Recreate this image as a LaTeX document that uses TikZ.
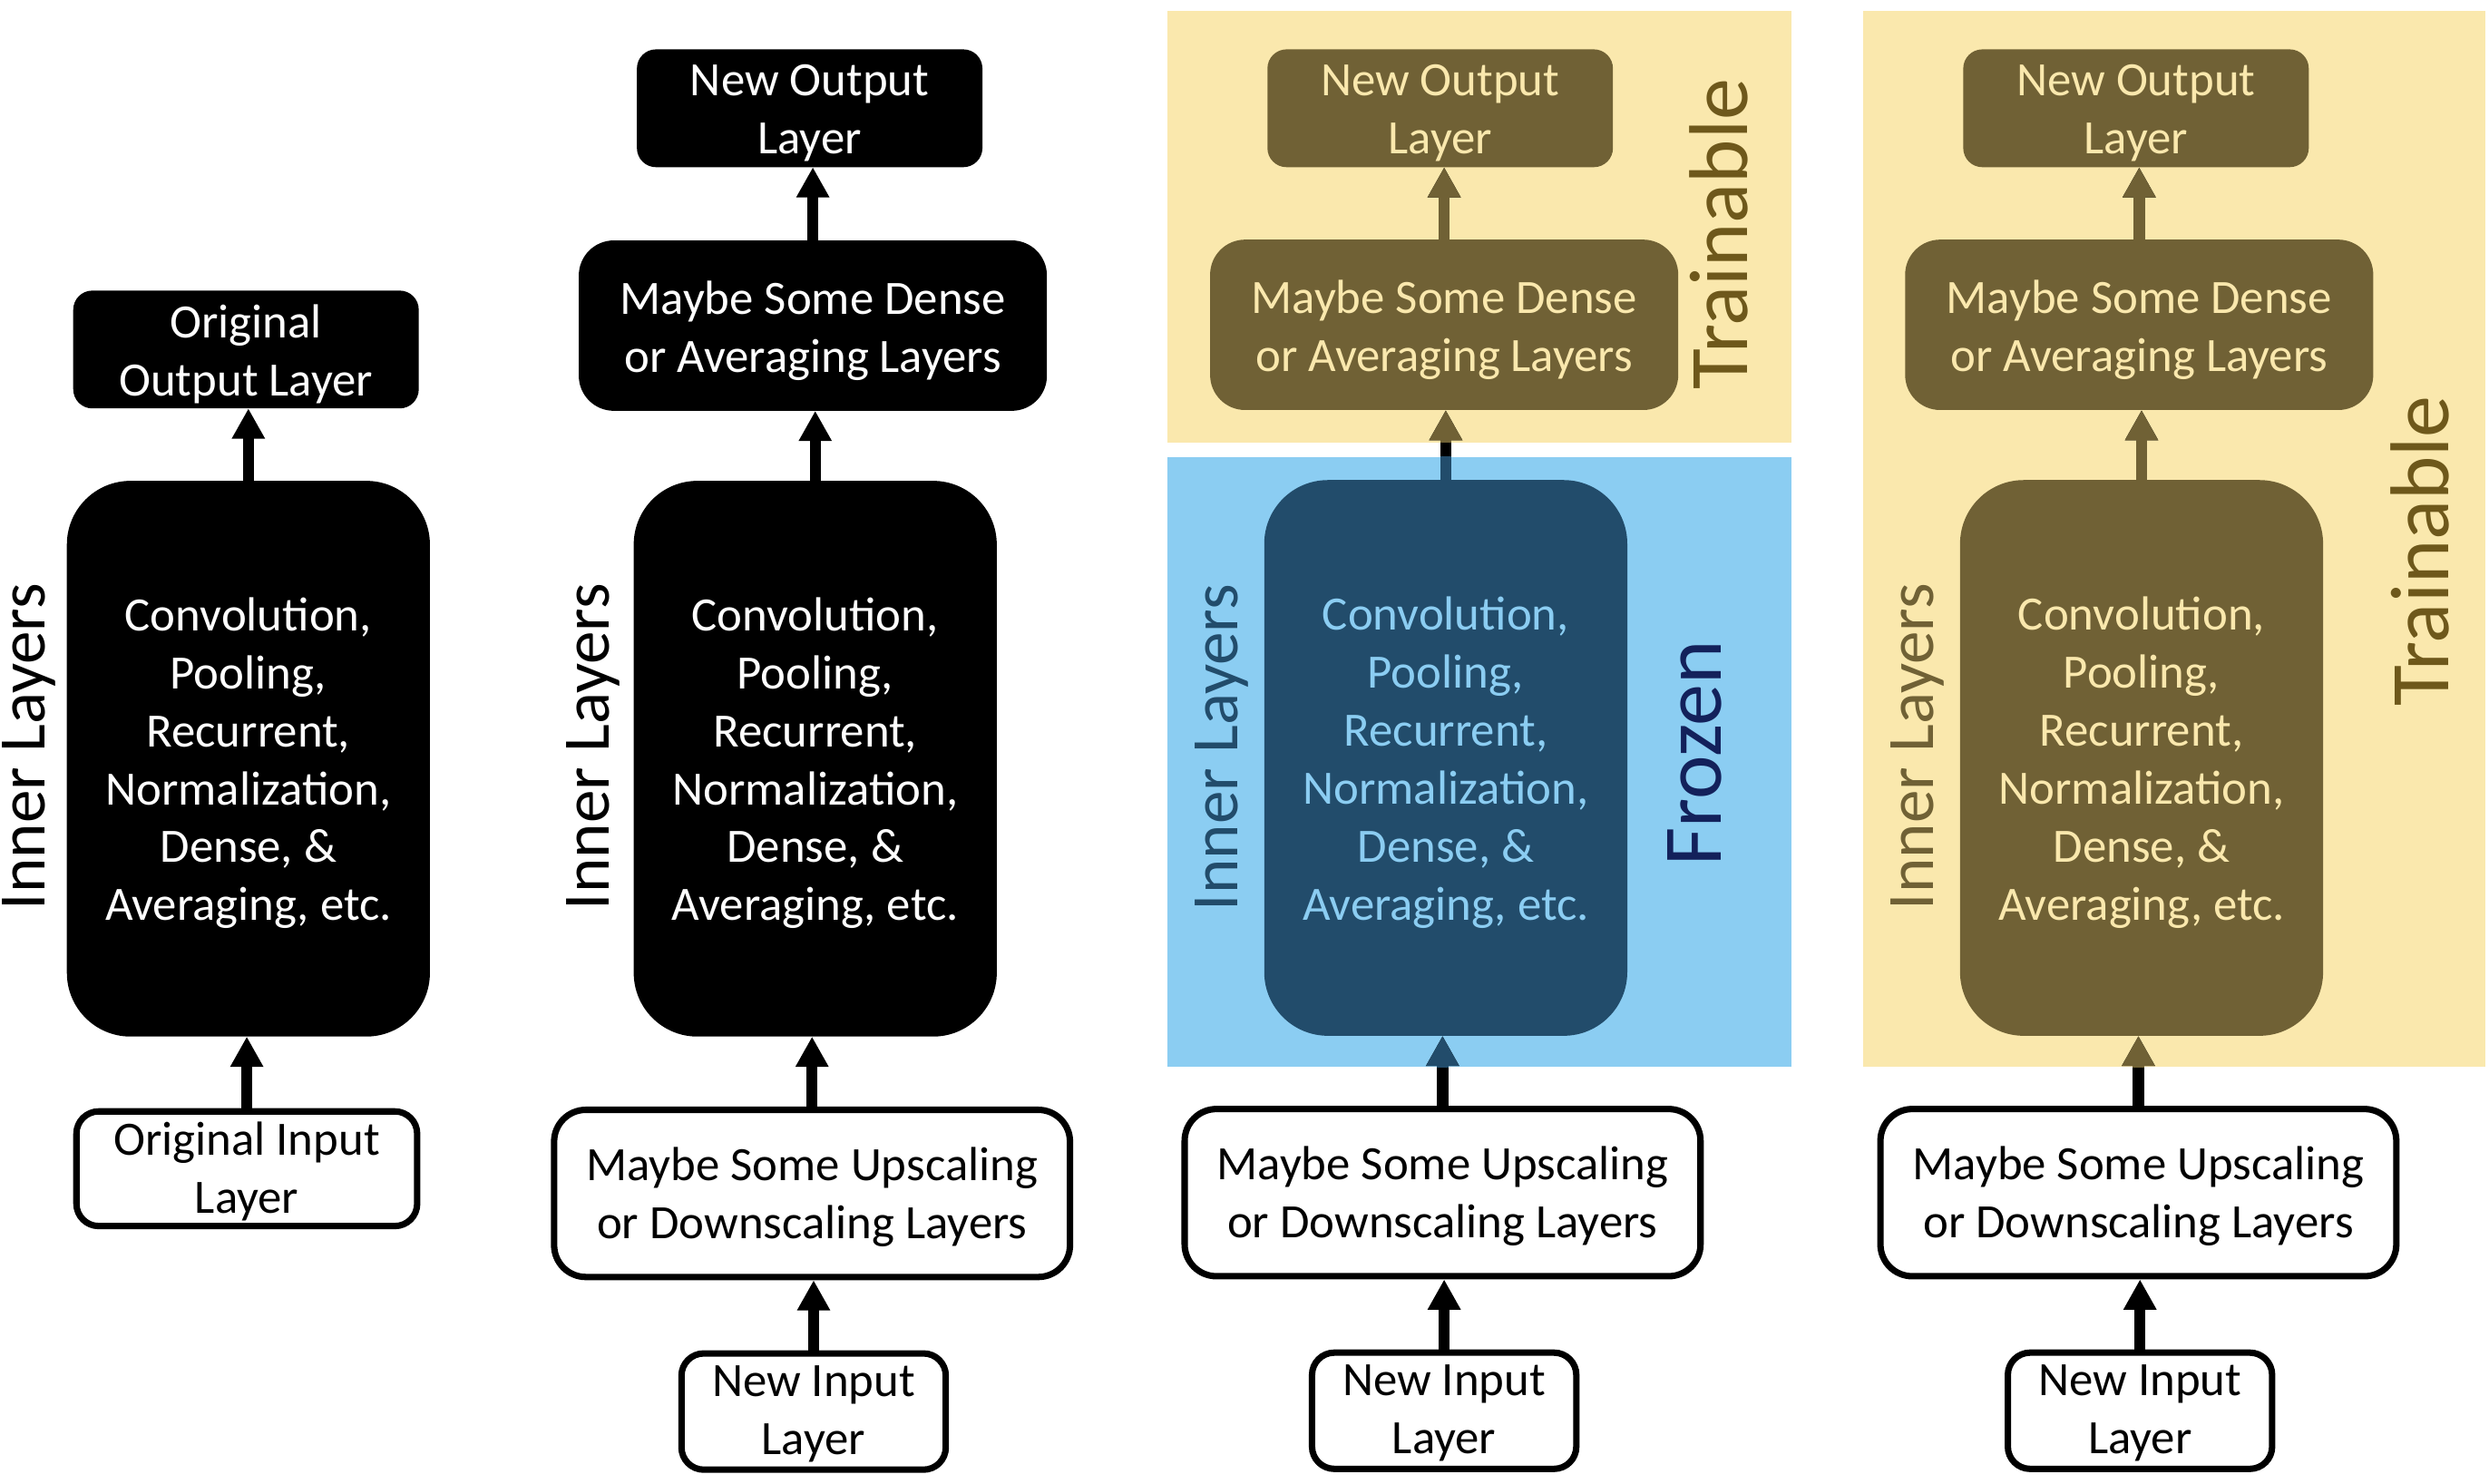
\documentclass[tikz,border=0pt]{standalone}
\usepackage{fontspec}
\setmainfont{Carlito}
\usetikzlibrary{arrows.meta}
\definecolor{ybg}{HTML}{FAE8AD}
\definecolor{bbg}{HTML}{8BCDF2}
\definecolor{olive}{HTML}{706135}
\definecolor{trcol}{HTML}{6E581B}
\definecolor{dkblue}{HTML}{224C6B}
\definecolor{frcol}{HTML}{13215B}
\newcommand\uu{0.43896pt}
\begin{document}
\begin{tikzpicture}[x=0.43896pt,y=-0.43896pt,
  sz/.style 2 args={minimum width=#1*\uu, minimum height=#2*\uu},
  box/.style={rectangle, inner sep=0pt, outer sep=0pt},
  txt/.style={inner sep=0pt, align=center, font=\fontsize{13.2}{16}\selectfont},
  blackbox/.style={box, fill=black},
  olivebox/.style={box, fill=olive},
  bluebox/.style={box, fill=dkblue},
  whitebox/.style={box, draw=black, line width=1.76pt, fill=white, outer sep=0.88pt},
  outbox/.style={sz={217}{74}, rounded corners=12*\uu},
  densebox/.style={sz={294}{107}, rounded corners=22*\uu},
  innerbox/.style={sz={228}{349}, rounded corners=40*\uu},
  origin/.style={sz={214}{72}, rounded corners=14*\uu},
  upbox/.style={sz={324}{105}, rounded corners=20*\uu},
  newin/.style={sz={166}{73}, rounded corners=14*\uu},
  sidelabel/.style={rotate=90, anchor=base, inner sep=0pt, font=\fontsize{18.3}{20}\selectfont},
  biglabel/.style={rotate=90, anchor=base, inner sep=0pt, font=\fontsize{23}{26}\selectfont},
  arr/.style={line width=3.07pt, -{Triangle[width=8.56pt, length=8.34pt]}}
]
\useasboundingbox (0,0) rectangle (1563.2,931.9);
% backgrounds
\fill[ybg] (733,7) rectangle (1125,278);
\fill[bbg] (733,287) rectangle (1125,670);
\fill[ybg] (1170,7) rectangle (1561,670);

% column 1
\node[blackbox, outbox] (out1) at (154.5,219.5) {};
\node[blackbox, innerbox] (inn1) at (156,476.5) {};
\node[whitebox, origin] (in1) at (155,734) {};
\node[txt, text=white] (out1t) at ([yshift=-1.2pt]out1.center) {Original\\Output Layer};
\node[txt, text=white] (inn1t) at ([yshift=-1.2pt]inn1.center) {Convolution,\\Pooling,\\Recurrent,\\Normalization,\\Dense, \&\\Averaging, etc.};
\node[txt, text=black] (in1t) at ([yshift=-0.8pt]in1.center) {Original Input\\Layer};
\node[sidelabel, text=black] (il1) at (28,469) {Inner Layers};

% column 2
\node[blackbox, outbox] (out2) at (508.5,68) {};
\node[blackbox, densebox] (den2) at (510.5,204.5) {};
\node[blackbox, innerbox] (inn2) at (512,476.5) {};
\node[whitebox, upbox] (up2) at (510,749.5) {};
\node[whitebox, newin] (nin2) at (511,886.5) {};
\node[txt, text=white] (out2t) at ([yshift=-1.2pt]out2.center) {New Output\\Layer};
\node[txt, text=white] (den2t) at ([yshift=-1.4pt]den2.center) {Maybe Some Dense\\or Averaging Layers};
\node[txt, text=white] (inn2t) at ([yshift=-1.2pt]inn2.center) {Convolution,\\Pooling,\\Recurrent,\\Normalization,\\Dense, \&\\Averaging, etc.};
\node[txt, text=black] (up2t) at ([yshift=-1pt]up2.center) {Maybe Some Upscaling\\or Downscaling Layers};
\node[txt, text=black] (nin2t) at ([yshift=-0.6pt]nin2.center) {New Input\\Layer};
\node[sidelabel, text=black] (il2) at (382.5,469) {Inner Layers};

% column 3
\node[olivebox, outbox] (out3) at (904.5,68) {};
\node[olivebox, densebox] (den3) at (907,204) {};
\node[bluebox, innerbox] (inn3) at (908,476) {};
\node[whitebox, upbox] (up3) at (906,749) {};
\node[whitebox, newin] (nin3) at (907,886) {};
\node[txt, text=ybg] (out3t) at ([yshift=-1.2pt]out3.center) {New Output\\Layer};
\node[txt, text=ybg] (den3t) at ([yshift=-1.4pt]den3.center) {Maybe Some Dense\\or Averaging Layers};
\node[txt, text=bbg] (inn3t) at ([yshift=-1.2pt]inn3.center) {Convolution,\\Pooling,\\Recurrent,\\Normalization,\\Dense, \&\\Averaging, etc.};
\node[txt, text=black] (up3t) at ([yshift=-1pt]up3.center) {Maybe Some Upscaling\\or Downscaling Layers};
\node[txt, text=black] (nin3t) at ([yshift=-0.6pt]nin3.center) {New Input\\Layer};
\node[sidelabel, text=dkblue] (il3) at (777.5,469.6) {Inner Layers};
\node[biglabel, text=frcol] (frz) at (1081,473) {Frozen};
\node[biglabel, text=trcol] (tr3) at (1097.6,147) {Trainable};

% column 4
\node[olivebox, outbox] (out4) at (1341.5,68) {};
\node[olivebox, densebox] (den4) at (1343.5,204) {};
\node[olivebox, innerbox] (inn4) at (1345,476) {};
\node[whitebox, upbox] (up4) at (1343,749) {};
\node[whitebox, newin] (nin4) at (1344,886) {};
\node[txt, text=ybg] (out4t) at ([yshift=-1.2pt]out4.center) {New Output\\Layer};
\node[txt, text=ybg] (den4t) at ([yshift=-1.4pt]den4.center) {Maybe Some Dense\\or Averaging Layers};
\node[txt, text=ybg] (inn4t) at ([yshift=-1.2pt]inn4.center) {Convolution,\\Pooling,\\Recurrent,\\Normalization,\\Dense, \&\\Averaging, etc.};
\node[txt, text=black] (up4t) at ([yshift=-1pt]up4.center) {Maybe Some Upscaling\\or Downscaling Layers};
\node[txt, text=black] (nin4t) at ([yshift=-0.6pt]nin4.center) {New Input\\Layer};
\node[sidelabel, text=olive] (il4) at (1214.5,469) {Inner Layers};
\node[biglabel, text=trcol] (tr4) at (1538,346) {Trainable};

% arrows (black)
\draw[arr] (in1.north) -- (in1.north |- inn1.south);
\draw[arr] (inn1.north) -- (inn1.north |- out1.south);

\draw[arr] (nin2.north) -- (nin2.north |- up2.south);
\draw[arr] (up2.north) -- (up2.north |- inn2.south);
\draw[arr] (inn2.north) -- (inn2.north |- den2.south);
\draw[arr] (den2.north) -- (den2.north |- out2.south);

\draw[arr] (nin3.north) -- (nin3.north |- up3.south);
\draw[arr] (up3.north) -- (up3.north |- inn3.south);
\draw[arr] (inn3.north) -- (inn3.north |- den3.south);
\draw[arr] (den3.north) -- (den3.north |- out3.south);

\draw[arr] (nin4.north) -- (nin4.north |- up4.south);
\draw[arr] (up4.north) -- (up4.north |- inn4.south);
\draw[arr] (inn4.north) -- (inn4.north |- den4.south);
\draw[arr] (den4.north) -- (den4.north |- out4.south);

% recoloured parts inside the shaded regions
\begin{scope}
  \clip (733,7) rectangle (1125,278);
  \draw[arr, olive] (inn3.north) -- (inn3.north |- den3.south);
  \draw[arr, olive] (den3.north) -- (den3.north |- out3.south);
\end{scope}
\begin{scope}
  \clip (733,287) rectangle (1125,670);
  \draw[arr, dkblue] (up3.north) -- (up3.north |- inn3.south);
  \draw[arr, dkblue] (inn3.north) -- (inn3.north |- den3.south);
\end{scope}
\begin{scope}
  \clip (1170,7) rectangle (1561,670);
  \draw[arr, olive] (up4.north) -- (up4.north |- inn4.south);
  \draw[arr, olive] (inn4.north) -- (inn4.north |- den4.south);
  \draw[arr, olive] (den4.north) -- (den4.north |- out4.south);
\end{scope}
\end{tikzpicture}
\end{document}
